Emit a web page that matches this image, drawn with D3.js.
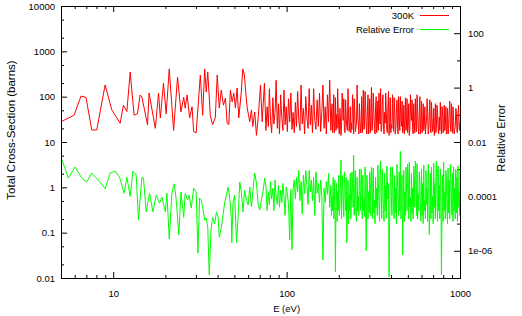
<!DOCTYPE html>
<html>
<head>
<meta charset="utf-8">
<script src="https://cdn.jsdelivr.net/npm/d3@7"></script>
<style>
  body { margin: 0; background: #fff; }
  svg text { font-family: "Liberation Sans", Arial, Helvetica, sans-serif; }
</style>
</head>
<body>
<div id="chart"></div>
<script>
// Low energy part (resolved resonances)
const energyLowXS = [5, 5.95, 6.52, 6.97, 7.52, 8.04, 8.98, 9.82, 10.97, 11.46,
  11.99, 12.53, 13.2, 13.8, 14.3, 14.64, 15.77, 16.1, 17.5, 18.26,
  18.7, 19.5, 20.2, 21.05, 22.3, 23.5, 24.6, 25.5, 26.0, 26.7,
  27.6, 28.5, 29.1, 30.1, 31.8, 32.8, 33.7, 34.4, 35.1, 36.3,
  37.4, 38.8, 39.8, 40.9, 42.0, 43.2, 44.4, 45.4, 46.4, 47.4,
  48.5, 49.6, 50.7, 51.8, 53.0, 54.8, 55.9, 57.1, 58.1, 59.3,
  61.3, 62.7, 63.8, 65.5, 67.0, 68.6, 70.7, 72.3, 74.5];
const xsLow = [28, 39, 103, 96, 18.4, 18.4, 181, 51, 26, 65,
  47, 350, 39, 42, 109, 98, 24, 120, 20, 120,
  34, 200, 42, 410, 18, 270, 46, 98, 56, 109,
  34, 60, 17, 16, 301, 39, 410, 127, 350, 39,
  24, 34, 301, 56, 140, 65, 93, 26, 24, 140,
  77, 120, 56, 156, 34, 127, 410, 301, 127, 56,
  28, 51, 22, 46, 14, 34, 181, 28, 200];

const energyLowErr = [5, 5.51, 6.02, 6.59, 7.04, 7.52, 8.40, 8.98, 9.60, 10.26,
  10.87, 11.57, 11.99, 12.53, 12.99, 13.57, 13.99, 14.64, 14.95, 15.5,
  16.2, 16.94, 17.7, 18.5, 19.1, 20.0, 20.4, 21.05, 21.8, 22.5,
  23.1, 23.9, 24.6, 25.5, 26.0, 26.9, 27.4, 28.2, 29.1, 30.1,
  30.8, 31.5, 32.2, 32.8, 33.7, 34.4, 35.1, 35.8, 36.6, 37.4,
  38.5, 39.4, 40.3, 40.9, 42.0, 43.0, 43.9, 44.9, 46.0, 47.0,
  48.0, 48.3, 49.1, 50.2, 51.4, 52.5, 53.7, 54.8, 56.1, 57.2,
  58.7, 60.0, 61.3, 62.7, 64.1, 65.5, 67.0, 68.6, 70.0, 71.6,
  73.3, 74.8];
const errLow = [2.8e-3, 4.7e-4, 1.2e-3, 4.7e-4, 3.4e-4, 7.2e-4, 3.4e-4, 1.9e-4, 7.2e-4, 8.5e-4,
  5.1e-4, 1.3e-4, 5.1e-4, 1.0e-4, 8.5e-4, 6.1e-4, 1.35e-5, 5.1e-4, 4.7e-4, 2.7e-5,
  1.3e-4, 2.7e-5, 1.1e-4, 5.7e-5, 9.4e-5, 2.7e-5, 1.3e-4, 2.7e-6, 1.3e-4, 2.9e-4,
  7.4e-5, 3.8e-6, 1.45e-4, 1.7e-5, 1.3e-4, 7.4e-5, 1.1e-4, 3.7e-5, 2.0e-4, 1.45e-4,
  8.3e-7, 8.7e-5, 7.4e-5, 4.1e-5, 1.35e-5, 1.6e-5, 7.5e-6, 1.3e-7, 4.9e-6, 1.7e-5,
  1.0e-5, 2.7e-5, 1.7e-5, 3.2e-6, 6.9e-6, 2.1e-5, 5.7e-5, 1.1e-4, 2.2e-4, 8.7e-5,
  1.7e-5, 2e-6, 6.2e-5, 1.1e-4, 2e-6, 1.6e-5, 3.4e-4, 1.45e-4, 2.7e-5, 1.7e-4,
  7.4e-5, 4.8e-5, 2.2e-4, 4.1e-5, 2.0e-4, 7.2e-4, 3.1e-4, 4.8e-5, 3.2e-5, 7.4e-5,
  1.7e-4, 4.7e-4];

// Unresolved (dense) part above ~75 eV, both curves on the same energies
const energyHigh = [76, 77.2, 78.5, 79.6, 80.8, 82, 83.3, 84.5, 85.8, 87,
  88.4, 89.7, 91, 92.4, 93.8, 95.2, 96.6, 98, 99.5, 101,
  102.6, 104.2, 105.8, 107.4, 109, 110.7, 112.4, 114, 115.8, 117.6,
  119.4, 121.2, 123, 125, 127, 129, 131, 133, 135, 137,
  139, 141, 143.2, 145.4, 147.6, 150, 152.4, 154.8, 157.2, 159.6,
  162, 164.5, 167, 169.5, 172, 174.6, 177.3, 180, 182.8, 185.6,
  188.4, 191.2, 194, 197, 200, 203, 206, 209, 212, 215.5,
  219, 222.5, 226, 229.5, 233, 236.5, 240, 243.6, 247.2, 251,
  255, 259, 263, 267, 271, 275, 279, 283.5, 288, 292.5,
  297, 301.5, 306, 311, 316, 321, 326, 331, 336, 341,
  346, 351, 356.5, 362, 367.5, 373, 378.5, 384, 390, 396,
  402, 408, 414, 420, 426.5, 433, 439.5, 446, 453, 460,
  467, 474, 481, 488, 495, 502.5, 510, 517.5, 525, 533,
  541, 549, 557, 565.5, 574, 582.5, 591, 600, 609, 618,
  627, 636.5, 646, 655.5, 665, 675, 685, 695, 705.5, 716,
  726.5, 737, 748, 759, 770, 781.5, 793, 805, 817, 829,
  841, 853.5, 866, 879, 892, 905, 918.5, 932, 946, 960,
  974, 988, 1000];
const xsHigh = [18, 60, 22, 150, 30, 16, 95, 25, 45, 230,
  20, 70, 15, 110, 35, 18, 140, 24, 60, 17,
  90, 28, 120, 19, 45, 16, 75, 22, 130, 30,
  18, 180, 25, 55, 15, 100, 35, 20, 150, 24,
  65, 16, 150, 30, 19, 85, 22, 120, 17, 45,
  180, 20, 60, 15, 110, 28, 230, 18, 70, 25,
  16, 95, 40, 150, 20, 55, 14, 120, 30, 18,
  85, 22, 150, 17, 60, 26, 110, 15, 45, 20,
  180, 24, 70, 16, 100, 30, 19, 130, 22, 50,
  15, 90, 28, 18, 120, 20, 60, 16, 80, 120,
  25, 17, 75, 22, 45, 120, 18, 60, 14, 95,
  24, 110, 17, 55, 20, 85, 15, 40, 100, 22,
  16, 65, 28, 18, 90, 22, 14, 110, 30, 19,
  70, 16, 24, 110, 20, 45, 15, 80, 26, 18,
  60, 22, 90, 15, 40, 20, 75, 17, 55, 24,
  16, 65, 19, 35, 75, 15, 50, 22, 18, 60,
  20, 15, 45, 24, 70, 16, 30, 19, 55, 17,
  40, 22, 28];
const errHigh = [2.4e-4, 3e-5, 1.5e-4, 5e-5, 3.5e-4, 8e-5, 2e-4, 3e-5, 4e-4, 1e-4,
  5e-5, 2.5e-4, 4e-5, 1.7e-4, 6e-5, 3e-4, 1e-4, 2e-5, 2.2e-4, 1.3e-4,
  5e-5, 2.5e-6, 1.8e-4, 1.1e-6, 2e-4, 4e-4, 8e-5, 5e-4, 1.5e-4, 9e-4,
  7e-5, 3.5e-4, 2.2e-5, 6e-4, 1.3e-4, 9e-4, 2.5e-4, 5e-5, 9e-4, 1.5e-4,
  4e-4, 7e-5, 5e-4, 2e-5, 8e-4, 1.3e-4, 3e-4, 6e-5, 4e-4, 1e-4,
  4.6e-7, 2e-4, 6e-5, 3.5e-4, 1.2e-4, 7e-4, 4e-5, 2.5e-4, 1e-4, 5e-4,
  8e-5, 1.7e-7, 3e-4, 1.5e-4, 6e-4, 5e-5, 2.2e-3, 2e-4, 9e-5, 8e-4,
  3e-5, 2e-6, 4e-4, 1.2e-4, 7e-4, 6e-5, 3e-4, 3.3e-3, 1.5e-4, 2.5e-5,
  5e-4, 1e-4, 1e-3, 3e-5, 2.5e-4, 6e-4, 8e-5, 1.2e-3, 1e-6, 3e-4,
  1.5e-4, 8e-4, 2e-5, 4e-4, 1.1e-3, 7e-5, 5e-4, 2e-4, 1.4e-3, 5e-5,
  6e-4, 1.5e-4, 1e-3, 3e-5, 7e-4, 2.5e-4, 1.3e-3, 8e-5, 1.1e-7, 5e-4,
  1e-4, 1.2e-3, 4e-5, 6e-4, 2e-4, 1.5e-3, 6e-5, 8e-4, 4.5e-3, 2e-4,
  7e-7, 9e-4, 1.5e-4, 1.2e-3, 3e-5, 5e-4, 1.8e-3, 9e-5, 7e-4, 2e-4,
  1.3e-3, 4e-5, 6e-4, 1.6e-3, 1.2e-4, 8e-4, 2.5e-5, 1e-3, 3e-4, 1.4e-3,
  7e-5, 9e-4, 2e-4, 1.5e-3, 4e-6, 7e-4, 1.2e-3, 1e-4, 1.7e-3, 3e-4,
  8e-4, 5e-5, 1.3e-3, 2.5e-4, 1e-3, 1.3e-7, 6e-4, 1.8e-3, 1.5e-4, 9e-4,
  3e-5, 1.1e-3, 4e-4, 1.5e-3, 8e-5, 7e-4, 1.2e-3, 2e-4, 1e-3, 5e-4,
  1.3e-3, 1.5e-4, 8e-4];

// extra points lying between the ones above, where the resonances get denser (> 180 eV)
const energyHighMid = [181.4, 184.2, 187, 189.8, 192.6, 195.5, 198.5, 201.5, 204.5, 207.5,
  210.5, 213.7, 217.2, 220.7, 224.2, 227.7, 231.2, 234.7, 238.2, 241.8,
  245.4, 249.1, 253, 257, 261, 265, 269, 273, 277, 281.2,
  285.7, 290.2, 294.7, 299.2, 303.7, 308.5, 313.5, 318.5, 323.5, 328.5,
  333.5, 338.5, 343.5, 348.5, 353.7, 359.2, 364.7, 370.2, 375.7, 381.2,
  387, 393, 399, 405, 411, 417, 423.2, 429.7, 436.2, 442.7,
  449.5, 456.5, 463.5, 470.5, 477.5, 484.5, 491.5, 498.7, 506.2, 513.7,
  521.2, 529, 537, 545, 553, 561.2, 569.7, 578.2, 586.7, 595.5,
  604.5, 613.5, 622.5, 631.7, 641.2, 650.7, 660.2, 670, 680, 690,
  700.2, 710.7, 721.2, 731.7, 742.5, 753.5, 764.5, 775.7, 787.2, 799,
  811, 823, 835, 847.2, 859.7, 872.5, 885.5, 898.5, 911.7, 925.2,
  939, 953, 967, 981, 994];
const xsHighMid = [35, 16, 110, 22, 18, 20, 45, 15, 28, 24,
  60, 90, 16, 35, 18, 40, 24, 16, 19, 55,
  90, 17, 26, 38, 15, 30, 20, 16, 140, 22,
  60, 15, 110, 25, 16, 160, 30, 45, 15, 100,
  24, 18, 40, 150, 20, 110, 15, 26, 50, 16,
  130, 28, 16, 20, 35, 95, 15, 45, 22, 100,
  18, 30, 80, 20, 15, 95, 24, 16, 70, 20,
  40, 85, 15, 28, 90, 17, 50, 15, 100, 22,
  16, 70, 24, 15, 30, 45, 18, 85, 16, 35,
  20, 14, 70, 22, 40, 15, 18, 30, 60, 16,
  65, 24, 15, 55, 20, 80, 17, 25, 60, 15,
  22, 45, 16, 65, 18];
const errHighMid = [2e-5, 3e-5, 1.5e-5, 4e-4, 5e-5, 1.2e-5, 3e-5, 2e-5, 4e-4, 1.5e-5,
  6e-4, 1.8e-5, 2.5e-4, 5e-4, 2.5e-5, 1e-5, 3e-5, 1.5e-5, 8e-4, 4e-5,
  2e-5, 9e-4, 1.2e-5, 3e-5, 2e-5, 1.5e-4, 1e-3, 1.5e-5, 3e-5, 1.8e-5,
  4e-5, 6e-4, 1.5e-5, 2.5e-5, 3e-4, 1.2e-3, 1.5e-5, 2.5e-5, 1e-5, 4e-5,
  2e-5, 3e-4, 1.2e-5, 2e-3, 1.5e-5, 2e-4, 1.2e-5, 3e-5, 1.6e-5, 5e-4,
  3e-4, 1.5e-5, 1.2e-3, 2e-5, 3e-4, 1.5e-5, 2.5e-5, 1e-5, 4e-4, 2e-5,
  3e-5, 1.5e-5, 6e-4, 4e-5, 1.2e-5, 2e-5, 3e-4, 1.5e-3, 1.5e-5, 4e-5,
  1.2e-5, 2.5e-5, 1.5e-5, 5e-4, 2e-3, 2e-5, 1.5e-5, 3e-5, 4e-4, 1.2e-5,
  2e-5, 1e-5, 3e-5, 1.5e-5, 5e-5, 1.2e-5, 6e-4, 3e-5, 1.5e-5, 2.5e-5,
  1e-5, 4e-5, 1.5e-5, 2e-3, 1.2e-5, 3e-5, 1.5e-5, 5e-4, 2e-5, 1.2e-5,
  3e-5, 1.5e-5, 4e-4, 1e-5, 2.5e-5, 1.5e-5, 6e-4, 2e-5, 1.2e-5, 3e-5,
  1.5e-5, 2.5e-5, 1.2e-5, 4e-5, 2e-5];

const xTicks = [10, 100, 1000];
const yTicks = [0.01, 0.1, 1, 10, 100, 1000, 10000];
const yTickLabels = ['0.01', '0.1', '1', '10', '100', '1000', '10000'];
const y2Ticks = [1e-6, 1e-4, 0.01, 1, 100];
const y2TickLabels = ['1e-06', '0.0001', '0.01', '1', '100'];
const seriesNames = ['300K', 'Relative Error'];
const seriesColors = ['#ff0000', '#00ff00'];

class CrossSectionPlot {

  constructor(_config) {
    this.config = {
      parentElement: _config.parentElement,
      containerWidth: 522,
      containerHeight: 316,
      margin: { top: 6, right: 62, bottom: 38, left: 61 },
      fontSize: 9.5
    }
    const pairs = (es, vs) => es.map((e, i) => ({ e: e, v: vs[i] }));
    this.xsData = d3.sort(pairs(energyLowXS, xsLow)
      .concat(pairs(energyHigh, xsHigh), pairs(energyHighMid, xsHighMid)), d => d.e);
    this.errData = d3.sort(pairs(energyLowErr, errLow)
      .concat(pairs(energyHigh, errHigh), pairs(energyHighMid, errHighMid)), d => d.e);
    this.initVis();
  }

  initVis() {
    let vis = this;

    vis.config.width = vis.config.containerWidth - vis.config.margin.left - vis.config.margin.right;
    vis.config.height = vis.config.containerHeight - vis.config.margin.top - vis.config.margin.bottom;

    vis.svg = d3.select(vis.config.parentElement).append('svg')
      .attr('width', vis.config.containerWidth)
      .attr('height', vis.config.containerHeight);

    vis.chart = vis.svg.append('g')
      .attr('transform', `translate(${vis.config.margin.left},${vis.config.margin.top})`);

    vis.xScale = d3.scaleLog().domain([5, 1000]).range([0, vis.config.width]);
    vis.yScale = d3.scaleLog().domain([0.01, 10000]).range([vis.config.height, 0]);
    vis.y2Scale = d3.scaleLog().domain([1e-7, 1000]).range([vis.config.height, 0]);

    // minor tick positions (2..9 on x, 2 and 5 on y, every decade on y2)
    vis.xMinor = [];
    for (let p = 0; p <= 2; p++) {
      for (let k = 2; k <= 9; k++) {
        const v = k * Math.pow(10, p);
        if (v >= 5 && v < 1000) vis.xMinor.push(v);
      }
    }
    vis.yMinor = [];
    for (let p = -2; p <= 3; p++) {
      vis.yMinor.push(2 * Math.pow(10, p), 5 * Math.pow(10, p));
    }
    vis.y2Minor = [1e-5, 1e-3, 0.1, 10];

    vis.renderVis();
  }

  renderVis() {
    let vis = this;
    const w = vis.config.width, h = vis.config.height;
    const fs = vis.config.fontSize;

    const styleAxis = g => {
      g.select('.domain').remove();
      g.selectAll('line').attr('stroke', '#000');
      g.selectAll('text').attr('font-size', fs).attr('fill', '#000')
        .attr('font-family', '"Liberation Sans", Arial, sans-serif');
    };

    // x axis bottom + mirrored top
    vis.chart.append('g').attr('transform', `translate(0,${h})`)
      .call(d3.axisBottom(vis.xScale).tickValues(vis.xMinor).tickFormat('').tickSizeInner(-3).tickSizeOuter(0))
      .call(styleAxis);
    vis.chart.append('g').attr('transform', `translate(0,${h})`)
      .call(d3.axisBottom(vis.xScale).tickValues(xTicks).tickFormat(d3.format('d'))
        .tickSizeInner(-6).tickSizeOuter(0).tickPadding(12))
      .call(styleAxis);
    vis.chart.append('g')
      .call(d3.axisTop(vis.xScale).tickValues(vis.xMinor).tickFormat('').tickSizeInner(-3).tickSizeOuter(0))
      .call(styleAxis);
    vis.chart.append('g')
      .call(d3.axisTop(vis.xScale).tickValues(xTicks).tickFormat('').tickSizeInner(-6).tickSizeOuter(0))
      .call(styleAxis);

    // left y axis
    vis.chart.append('g')
      .call(d3.axisLeft(vis.yScale).tickValues(vis.yMinor).tickFormat('').tickSizeInner(-3).tickSizeOuter(0))
      .call(styleAxis);
    vis.chart.append('g')
      .call(d3.axisLeft(vis.yScale).tickValues(yTicks).tickFormat(d => yTickLabels[yTicks.indexOf(d)])
        .tickSizeInner(-6).tickSizeOuter(0).tickPadding(6))
      .call(styleAxis);

    // right y2 axis
    vis.chart.append('g').attr('transform', `translate(${w},0)`)
      .call(d3.axisRight(vis.y2Scale).tickValues(vis.y2Minor).tickFormat('').tickSizeInner(-3).tickSizeOuter(0))
      .call(styleAxis);
    vis.chart.append('g').attr('transform', `translate(${w},0)`)
      .call(d3.axisRight(vis.y2Scale).tickValues(y2Ticks).tickFormat(d => y2TickLabels[y2Ticks.indexOf(d)])
        .tickSizeInner(-6).tickSizeOuter(0).tickPadding(8))
      .call(styleAxis);

    // clip + curves
    vis.svg.append('defs').append('clipPath').attr('id', 'plot-clip')
      .append('rect').attr('width', w).attr('height', h);

    const lineXS = d3.line().x(d => vis.xScale(d.e)).y(d => vis.yScale(d.v));
    const lineErr = d3.line().x(d => vis.xScale(d.e)).y(d => vis.y2Scale(d.v));

    const curves = vis.chart.append('g').attr('clip-path', 'url(#plot-clip)');
    curves.append('path').datum(vis.xsData)
      .attr('d', lineXS).attr('fill', 'none')
      .attr('stroke', seriesColors[0]).attr('stroke-width', 1);
    curves.append('path').datum(vis.errData)
      .attr('d', lineErr).attr('fill', 'none')
      .attr('stroke', seriesColors[1]).attr('stroke-width', 1);

    // frame
    vis.chart.append('rect')
      .attr('x', 0.5).attr('y', 0.5)
      .attr('width', w).attr('height', h)
      .attr('fill', 'none').attr('stroke', '#000');

    // legend (top right, inside)
    const legend = vis.svg.append('g');
    seriesNames.forEach((name, i) => {
      const ly = 15 + i * 14;
      legend.append('text')
        .attr('x', 414).attr('y', ly + 3.5)
        .attr('text-anchor', 'end').attr('font-size', fs)
        .text(name);
      legend.append('line')
        .attr('x1', 420).attr('x2', 449)
        .attr('y1', ly + 0.5).attr('y2', ly + 0.5)
        .attr('stroke', seriesColors[i]);
    });

    // axis titles
    vis.svg.append('text')
      .attr('x', vis.config.margin.left + vis.xScale(100)).attr('y', 312)
      .attr('text-anchor', 'middle').attr('font-size', fs)
      .text('E (eV)');
    vis.svg.append('text')
      .attr('transform', 'translate(15,130) rotate(-90)')
      .attr('text-anchor', 'middle').attr('font-size', 11.5)
      .text('Total Cross-Section (barns)');
    vis.svg.append('text')
      .attr('transform', 'translate(505,138) rotate(-90)')
      .attr('text-anchor', 'middle').attr('font-size', 11)
      .text('Relative Error');
  }
}

const plot = new CrossSectionPlot({ parentElement: '#chart' });
</script>
</body>
</html>
